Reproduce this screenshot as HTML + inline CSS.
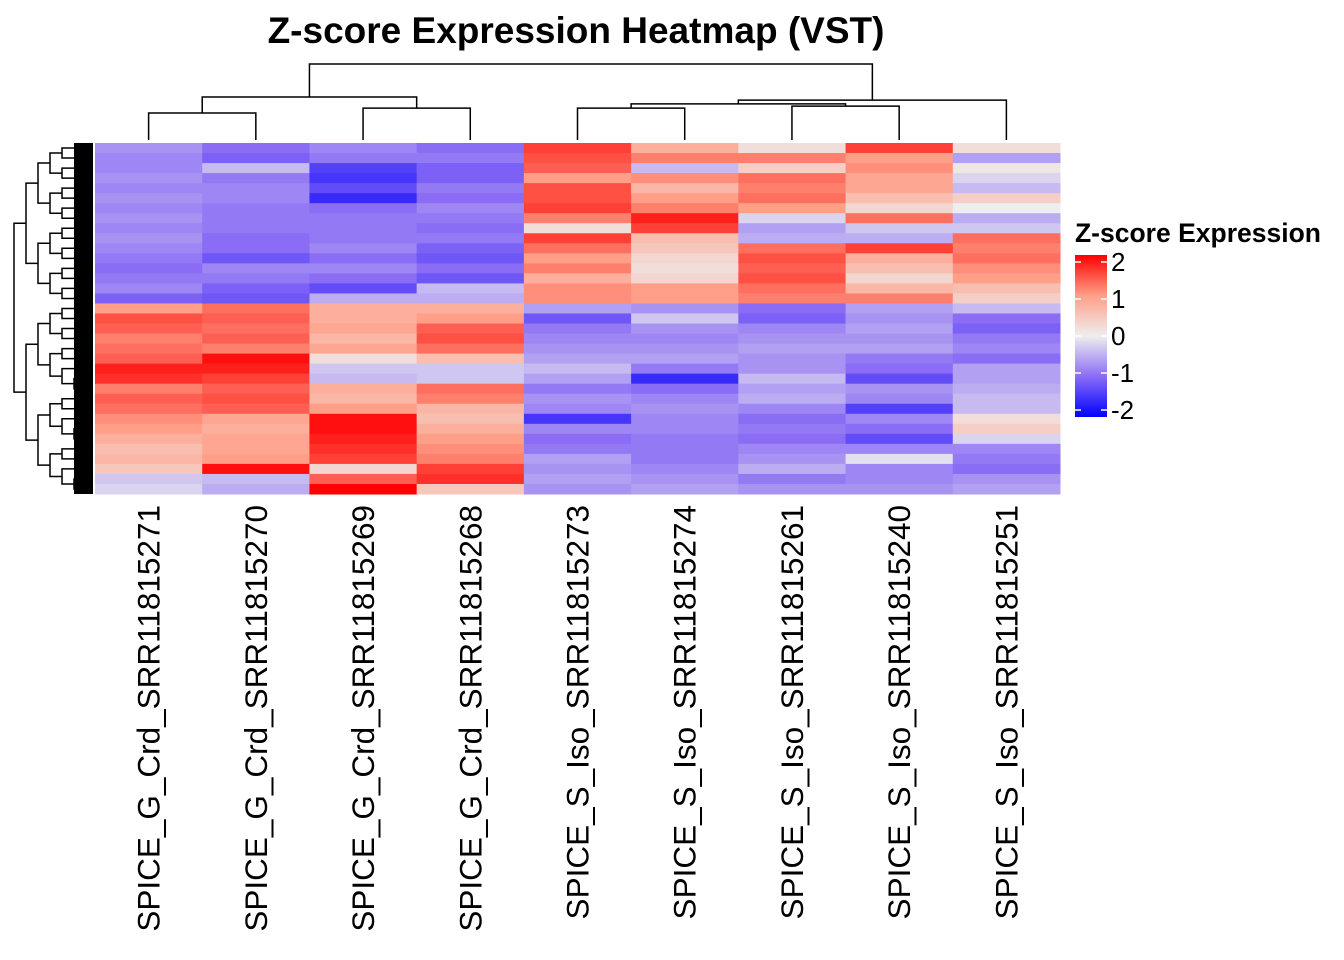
<!DOCTYPE html>
<html><head><meta charset="utf-8"><style>
body{margin:0;background:#fff;}
svg{display:block;font-family:"Liberation Sans",Arial,sans-serif;}
</style></head><body>
<svg id="chart" width="1344" height="960">
<defs><linearGradient id="cbar" x1="0" y1="1" x2="0" y2="0">
<stop offset="0" stop-color="#0000FF"/><stop offset="0.25" stop-color="#8A6CF5"/><stop offset="0.5" stop-color="#EEEEEE"/><stop offset="0.75" stop-color="#FF9F88"/><stop offset="1" stop-color="#FF0000"/></linearGradient></defs>
<text x="576" y="43" text-anchor="middle" font-size="37" font-weight="bold">Z-score Expression Heatmap (VST)</text>
<g id="cells"></g><g id="coldend"></g><g id="rowdend"></g><g id="labels"></g>
<g>
<text x="1075" y="242" font-size="26.5" font-weight="bold">Z-score Expression</text>
<rect x="1075" y="255" width="32" height="162" fill="url(#cbar)"/>
<g id="legticks"></g>
</g>
</svg>
<script>
const samples=["SPICE_G_Crd_SRR11815271","SPICE_G_Crd_SRR11815270","SPICE_G_Crd_SRR11815269","SPICE_G_Crd_SRR11815268","SPICE_S_Iso_SRR11815273","SPICE_S_Iso_SRR11815274","SPICE_S_Iso_SRR11815261","SPICE_S_Iso_SRR11815240","SPICE_S_Iso_SRR11815251"];
const col1=[-0.7,-0.8,-0.8,-0.7,-0.8,-0.7,-0.8,-0.7,-0.8,-0.7,-0.8,-0.9,-1.0,-0.9,-0.8,-1.1,1.0,1.5,1.4,1.2,1.3,1.4,1.8,1.7,1.2,1.4,1.3,1.1,1.0,0.8,0.6,0.7,0.5,-0.3,-0.2];
const col2=[-1.0,-1.1,-0.4,-0.9,-0.8,-0.8,-0.9,-0.9,-0.9,-1.0,-1.0,-1.2,-0.8,-0.9,-1.1,-1.2,1.3,1.4,1.3,1.4,1.2,1.9,1.8,1.6,1.4,1.5,1.4,0.9,0.8,0.9,0.9,1.0,1.9,-0.4,-0.5];
const col3=[-0.8,-0.9,-1.4,-1.5,-1.3,-1.6,-1.0,-0.9,-0.9,-0.9,-0.8,-1.0,-0.8,-1.0,-1.3,-0.5,0.8,0.8,0.9,0.7,0.9,0.2,-0.3,-0.4,0.8,0.7,1.0,1.9,1.9,1.8,1.7,1.6,0.3,1.4,2.0];
const col4=[-1.0,-0.9,-1.1,-1.1,-0.9,-1.0,-0.8,-0.9,-1.0,-0.9,-1.1,-1.2,-1.0,-1.2,-0.4,-0.5,0.8,1.0,1.4,1.5,1.3,0.6,-0.3,-0.3,1.3,1.2,0.7,0.6,0.8,1.0,1.1,1.2,1.6,1.7,0.5];
const col5=[1.6,1.5,1.4,1.0,1.5,1.5,1.6,1.2,0.2,1.6,1.3,1.0,1.2,0.8,1.1,1.1,-0.6,-1.2,-0.9,-0.8,-0.7,-0.6,-0.4,-0.6,-0.9,-0.7,-0.8,-1.5,-0.8,-1.0,-0.9,-0.6,-0.7,-0.6,-0.7];
const col6=[0.8,1.2,-0.4,1.1,0.7,1.0,1.2,1.8,1.6,0.6,0.5,0.3,0.2,0.3,1.0,1.0,-0.7,-0.3,-0.7,-0.8,-0.7,-0.6,-0.9,-1.6,-1.0,-0.8,-0.7,-0.8,-0.8,-0.9,-0.9,-0.9,-0.8,-0.7,-0.6];
const col7=[0.2,1.2,0.4,1.3,1.2,1.3,1.0,-0.2,-0.6,-0.5,1.3,1.5,1.4,1.5,1.3,1.2,-1.0,-1.1,-0.8,-0.7,-0.6,-0.7,-0.7,-0.4,-0.6,-0.5,-0.8,-1.0,-0.9,-1.0,-0.8,-0.7,-0.5,-0.9,-0.7];
const col8=[1.6,1.0,1.1,0.9,0.9,0.6,0.3,1.3,-0.3,-0.5,1.6,0.8,0.6,0.3,0.7,1.2,-0.6,-0.7,-0.6,-0.7,-0.6,-0.9,-1.0,-1.3,-0.7,-0.8,-1.4,-0.8,-1.0,-1.3,-0.8,-0.1,-0.8,-0.8,-0.7];
const col9=[0.2,-0.6,0.1,-0.2,-0.4,0.4,0.0,-0.5,-0.3,1.3,1.2,1.3,1.1,1.0,0.6,0.4,-0.4,-1.0,-1.1,-0.9,-0.8,-1.0,-0.6,-0.6,-0.5,-0.4,-0.4,0.2,0.4,-0.2,-0.8,-0.9,-1.0,-0.7,-0.6];
const legendTicks=[2,1,0,-1,-2];
// column tree: [left,right,height]; leaves are indices
const colTree=[[[0,1,0.71],[2,3,0.84],1.13],[[[4,5,0.84],[6,7,0.89],0.95],8,1.05],2.0];

const NS="http://www.w3.org/2000/svg";
const cols=[col1,col2,col3,col4,col5,col6,col7,col8,col9];
const X0=95,X1=1060,Y0=143,Y1=494;
const cw=(X1-X0)/samples.length, rh=(Y1-Y0)/col1.length;
const xPos=i=>X0+i*cw, yPos=j=>Y0+j*rh;
const stops=[[-2,[0,0,255]],[-1,[138,108,245]],[0,[238,238,238]],[1,[255,159,136]],[2,[255,0,0]]];
function color(v){v=Math.max(-2,Math.min(2,v));for(let k=0;k<4;k++){const a=stops[k],b=stops[k+1];if(v<=b[0]){const t=(v-a[0])/(b[0]-a[0]);return 'rgb('+a[1].map((c,i)=>Math.round(c+(b[1][i]-c)*t)).join(',')+')';}}}
function mk(tag,at,parent){const e=document.createElementNS(NS,tag);for(const k in at)e.setAttribute(k,at[k]);parent.appendChild(e);return e;}
const cells=document.getElementById('cells');
cols.forEach((c,i)=>c.forEach((v,j)=>{
 const r=mk('rect',{x:xPos(i),y:yPos(j),width:cw+0.5,height:rh+0.5,fill:color(v)},cells);
 
 
}));
const lab=document.getElementById('labels');
samples.forEach((s,i)=>{const cx=xPos(i)+cw/2+11;
 const t=mk('text',{x:0,y:0,transform:`translate(${cx},505) rotate(-90)`,'text-anchor':'end','font-size':'31.5'},lab);
 t.textContent=s;
 
 
});
const cd=document.getElementById('coldend');
const hY=h=>140-h*38;
function drawCol(n){ if(typeof n==='number') return {x:xPos(n)+cw/2,y:140};
 const a=drawCol(n[0]),b=drawCol(n[1]),y=hY(n[2]);
 mk('path',{d:`M${a.x},${a.y}V${y}H${b.x}V${b.y}`,fill:'none',stroke:'#000','stroke-width':1.5},cd);
 return {x:(a.x+b.x)/2,y:y};}
drawCol(colTree);


const rd=document.getElementById('rowdend');
function drawRow(lo,hi,depth){ if(hi-lo<=1) return {y:(yPos(lo)+yPos(hi))/2,x:93};
 const m=(depth===0)?16:Math.floor((lo+hi)/2);
 const a=drawRow(lo,m,depth+1),b=drawRow(m,hi,depth+1),x=Math.min(85,14+depth*12);
 mk('path',{d:`M${a.x},${a.y}H${x}V${b.y}H${b.x}`,fill:'none',stroke:'#000','stroke-width':1.5},rd);
 return {x:x,y:(a.y+b.y)/2};}
drawRow(0,col1.length,0);
mk('rect',{x:74,y:Y0,width:19,height:Y1-Y0,fill:'#000'},rd);


const lt=document.getElementById('legticks');
legendTicks.forEach(v=>{const y=336-v*37;
 mk('line',{x1:1075,x2:1081,y1:y,y2:y,stroke:'#fff','stroke-width':1.5},lt);
 mk('line',{x1:1101,x2:1107,y1:y,y2:y,stroke:'#fff','stroke-width':1.5},lt);
 const t=mk('text',{x:1111,y:y+9,'font-size':'26'},lt);
 t.textContent=String(v);
 
 
});
</script>
</body></html>
